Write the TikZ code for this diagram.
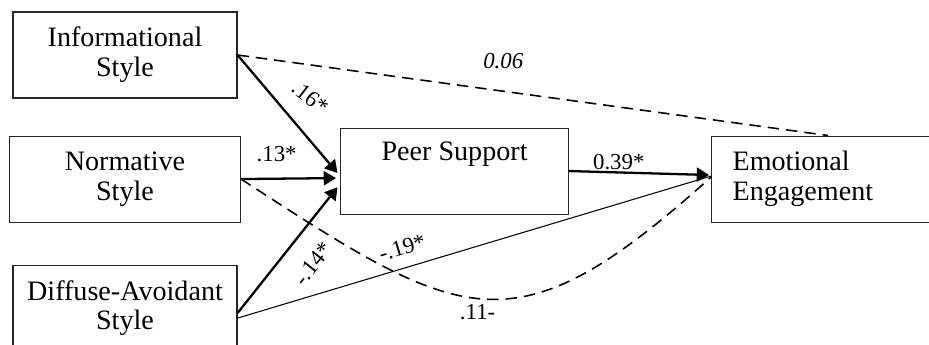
\documentclass[tikz,border=0pt]{standalone}
\usepackage{fontspec}
\setmainfont{Liberation Serif}
\usetikzlibrary{arrows.meta,positioning}

\begin{document}
\begin{tikzpicture}[>={Triangle[length=7pt,width=8pt]},
    var/.style={draw=black!85,line width=0.6pt,align=center,minimum height=1.72cm,
        inner sep=2pt,font=\fontsize{16}{17}\selectfont},
    sig/.style={->,line width=1.3pt,shorten >=0.08cm},
    nsig/.style={dash pattern=on 6.5pt off 4pt,line width=0.9pt},
    weak/.style={line width=0.6pt},
    coef/.style={font=\fontsize{13}{14}\selectfont,inner sep=1pt}]

            \useasboundingbox (0,0) rectangle (18.58,-6.9);

            \node[var,minimum width=4.48cm] (info) at (2.5,-1.1) {Informational\\Style};

            \node[var,minimum width=4.62cm] (norm) [below=0.74cm of info] {Normative\\Style};

            \node[var,minimum width=4.48cm] (diff) [below=0.84cm of norm] {Diffuse-Avoidant\\Style};

            \node[var,minimum width=4.56cm] (peer) [right=1.98cm of norm,yshift=0.16cm] {Peer Support\\\strut};

            \node[var,align=left,text width=4cm,inner xsep=0.42cm] (emo) [right=2.84cm of peer,yshift=-0.16cm] {Emotional\\Engagement};

            % paths to peer support
            \path (info.east) edge[sig] node[coef,pos=0.35,xshift=0.74cm,rotate=-38] {.16*} ([yshift=-0.1cm]peer.west)
                  (norm.east) edge[sig] node[coef,pos=0.36,yshift=0.5cm] {.13*} ([yshift=-0.14cm]peer.west)
                  ([yshift=-0.1cm]diff.east) edge[sig] node[coef,pos=0.52,sloped,below=0.36cm] {-.14*} ([yshift=-0.26cm]peer.west);

            % paths to emotional engagement
            \path (peer.east) edge[sig,shorten >=0.04cm] node[coef,pos=0.35,above=0pt] {0.39*} ([yshift=0.08cm]emo.west)
                  (info.east) edge[nsig] node[coef,pos=0.45,above=0.4cm,font=\fontsize{13}{14}\selectfont\itshape] {0.06} ([xshift=2.34cm]emo.north west)
                  ([yshift=-0.2cm]diff.east) edge[weak] node[coef,pos=0.36,sloped,above=0.2cm] {-.19*} ([yshift=0.06cm]emo.west);

            \draw[nsig] (norm.east) .. controls +(4.46,-2.9) and +(-3.96,-3.56) .. node[coef,pos=0.48,below=0.06cm] {.11-} ([yshift=0.04cm]emo.west);

        \end{tikzpicture}
\end{document}
